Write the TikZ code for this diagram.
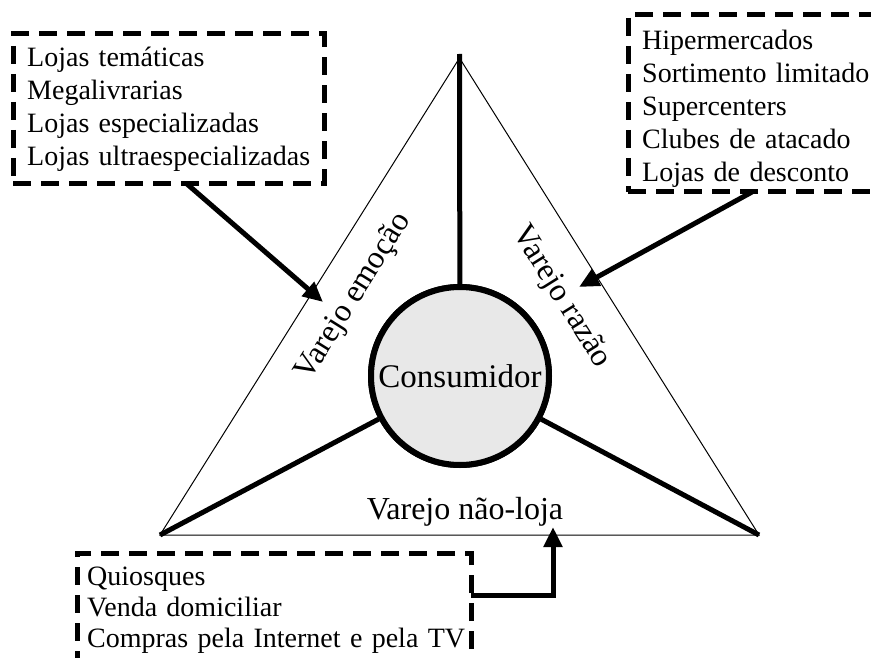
\documentclass[tikz,border=0pt]{standalone}
\usepackage{fontspec}
\setmainfont{Liberation Serif}
\usetikzlibrary{arrows.meta}
\definecolor{hubgray}{RGB}{232,232,232}
\begin{document}
\begin{tikzpicture}[x=1pt,y=-1pt,
  edge/.style={line width=1pt, line join=miter},
  spoke/.style={line width=5pt},
  dashbox/.style={draw, line width=5pt, dash pattern=on 18pt off 10pt,
    inner sep=0pt, outer sep=0pt, anchor=north west},
  listtext/.style={font=\fontsize{28}{33}\selectfont, text width=430pt,
    align=left, inner sep=0pt, anchor=base west},
  pointer/.style={line width=5pt, line join=miter, -{Triangle[length=20pt,width=18pt]}},
  region/.style={font=\fontsize{32}{38}\selectfont, inner sep=0pt},
  hub/.style={circle, draw, line width=6pt, fill=hubgray, minimum size=178pt,
    inner sep=0pt, font=\fontsize{33}{40}\selectfont}]

\clip (0,0) rectangle (871,658);

% triangle of the three retail formats
\coordinate (T) at (459.5,58);
\coordinate (Ttop) at (459.5,54);
\coordinate (L) at (160,535);
\coordinate (R) at (759,535);
\draw[edge] (T) -- (L) -- (R) -- cycle;

% consumer at the centre, joined to the corners
\node[hub] (cons) at (460,376) {};
\draw[spoke] (Ttop) -- (cons);
\draw[spoke] (L) -- (cons);
\draw[spoke] (R) -- (cons);
\node[hub] (consumer) at (460,376) {Consumidor};

% labels of the three sectors
\node[region, rotate=58] (emo) at (354,297) {Varejo emoção};
\node[region, rotate=-58] (raz) at (561,297) {Varejo razão};
\node[region] (nao) at (465,512) {Varejo não-loja};

% lists of store types
\node[dashbox, minimum width=311pt, minimum height=150pt] (emobox) at (13,34) {};
\node[listtext] (emolist) at (27,67)
  {Lojas temáticas\\Megalivrarias\\Lojas especializadas\\Lojas ultraespecializadas};

\node[dashbox, minimum width=260pt, minimum height=177pt] (razbox) at (628,15) {};
\node[listtext] (razlist) at (642,50)
  {Hipermercados\\Sortimento limitado\\Supercenters\\Clubes de atacado\\Lojas de desconto};

\node[dashbox, minimum width=394pt, minimum height=150pt] (naobox) at (77,553) {};
\node[listtext, font=\fontsize{28}{31}\selectfont] (naolist) at (87,585)
  {Quiosques\\Venda domiciliar\\Compras pela Internet e pela TV};

% pointers from the lists to their sectors
\coordinate (tipE) at (323,302);
\coordinate (tipR) at (579,287);
\coordinate (tipN) at (553,527);
\draw[pointer] ([xshift=174pt]emobox.south west) -- (tipE);
\draw[pointer] ([xshift=124pt]razbox.south west) -- (tipR);
\draw[pointer] ([yshift=-42pt]naobox.north east) -| (tipN);
\end{tikzpicture}
\end{document}
